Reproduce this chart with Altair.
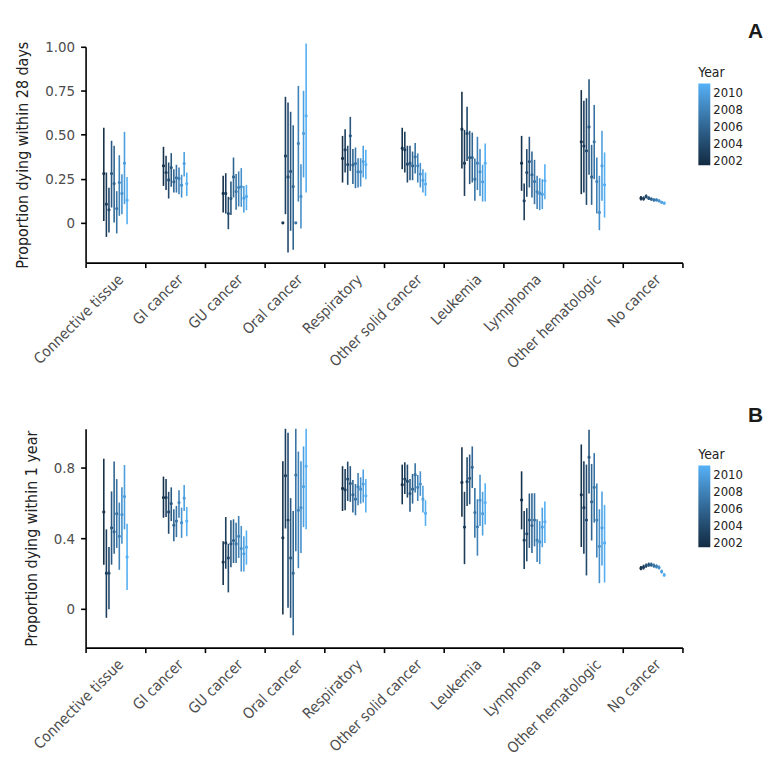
import altair as alt
import pandas as pd

categories = ["Connective tissue", "GI cancer", "GU cancer", "Oral cancer", "Respiratory",
              "Other solid cancer", "Leukemia", "Lymphoma", "Other hematologic", "No cancer"]
years = [2002, 2003, 2004, 2005, 2006, 2007, 2008, 2009, 2010, 2011]

# ---- Panel A: proportion dying within 28 days ----
est28 = {
    "Connective tissue": [0.28, 0.106, 0.074, 0.28, 0.223, 0.081, 0.229, 0.167, 0.339, 0.129],
    "GI cancer": [0.324, 0.286, 0.244, 0.314, 0.233, 0.256, 0.252, 0.214, 0.337, 0.223],
    "GU cancer": [0.167, 0.167, 0.053, 0.138, 0.261, 0.178, 0.201, 0.205, 0.14, 0.15],
    "Oral cancer": [0.0, 0.38, 0.261, 0.292, 0.206, 0.0, 0.451, 0.15, 0.508, 0.608],
    "Respiratory": [0.366, 0.415, 0.331, 0.494, 0.329, 0.337, 0.29, 0.29, 0.348, 0.331],
    "Other solid cancer": [0.424, 0.415, 0.333, 0.339, 0.324, 0.375, 0.324, 0.277, 0.242, 0.22],
    "Leukemia": [0.532, 0.339, 0.508, 0.371, 0.371, 0.248, 0.339, 0.29, 0.233, 0.339],
    "Lymphoma": [0.339, 0.125, 0.286, 0.348, 0.273, 0.235, 0.176, 0.167, 0.163, 0.239],
    "Other hematologic": [0.46, 0.436, 0.409, 0.545, 0.261, 0.46, 0.235, 0.059, 0.324, 0.216],
    "No cancer": [0.14, 0.138, 0.15, 0.14, 0.135, 0.13, 0.13, 0.125, 0.117, 0.112],
}
lo28 = {
    "Connective tissue": [0.011, -0.08, -0.055, 0.087, 0.002, -0.06, 0.04, 0.049, 0.106, -0.008],
    "GI cancer": [0.21, 0.186, 0.138, 0.205, 0.172, 0.172, 0.163, 0.144, 0.263, 0.153],
    "GU cancer": [0.059, 0.053, -0.036, 0.045, 0.144, 0.074, 0.093, 0.091, 0.059, 0.072],
    "Oral cancer": [0.0, 0.049, -0.169, -0.045, -0.153, 0.0, 0.121, -0.032, 0.258, 0.172],
    "Respiratory": [0.229, 0.286, 0.216, 0.295, 0.22, 0.197, 0.201, 0.206, 0.258, 0.248],
    "Other solid cancer": [0.305, 0.286, 0.229, 0.242, 0.242, 0.28, 0.229, 0.201, 0.172, 0.153],
    "Leukemia": [0.309, 0.153, 0.352, 0.22, 0.229, 0.125, 0.186, 0.153, 0.121, 0.121],
    "Lymphoma": [0.182, 0.015, 0.148, 0.201, 0.144, 0.106, 0.078, 0.072, 0.078, 0.134],
    "Other hematologic": [0.163, 0.172, 0.102, 0.273, 0.102, 0.248, 0.053, -0.042, 0.125, 0.03],
    "No cancer": [0.127, 0.126, 0.139, 0.13, 0.126, 0.121, 0.122, 0.117, 0.109, 0.104],
}
hi28 = {
    "Connective tissue": [0.54, 0.286, 0.20, 0.466, 0.438, 0.18, 0.384, 0.276, 0.517, 0.261],
    "GI cancer": [0.432, 0.381, 0.343, 0.396, 0.305, 0.33, 0.314, 0.273, 0.403, 0.286],
    "GU cancer": [0.267, 0.282, 0.148, 0.235, 0.371, 0.277, 0.292, 0.311, 0.21, 0.216],
    "Oral cancer": [0.0, 0.716, 0.684, 0.631, 0.555, 0.0, 0.778, 0.333, 0.75, 1.019],
    "Respiratory": [0.494, 0.532, 0.438, 0.602, 0.419, 0.428, 0.367, 0.367, 0.438, 0.415],
    "Other solid cancer": [0.54, 0.517, 0.438, 0.438, 0.405, 0.453, 0.394, 0.341, 0.305, 0.286],
    "Leukemia": [0.744, 0.528, 0.659, 0.523, 0.513, 0.366, 0.489, 0.419, 0.33, 0.451],
    "Lymphoma": [0.494, 0.223, 0.419, 0.489, 0.405, 0.358, 0.267, 0.254, 0.248, 0.333],
    "Other hematologic": [0.754, 0.693, 0.708, 0.816, 0.443, 0.67, 0.371, 0.267, 0.523, 0.4],
    "No cancer": [0.153, 0.150, 0.161, 0.150, 0.144, 0.139, 0.138, 0.133, 0.125, 0.12],
}

# ---- Panel B: proportion dying within 1 year ----
est1y = {
    "Connective tissue": [0.549, 0.202, 0.202, 0.459, 0.436, 0.539, 0.411, 0.534, 0.636, 0.293],
    "GI cancer": [0.63, 0.63, 0.549, 0.596, 0.474, 0.497, 0.602, 0.488, 0.627, 0.497],
    "GU cancer": [0.265, 0.373, 0.288, 0.368, 0.387, 0.368, 0.411, 0.341, 0.312, 0.349],
    "Oral cancer": [0.402, 0.754, 0.503, 0.288, 0.202, 0.758, 0.558, 0.573, 0.693, 0.808],
    "Respiratory": [0.682, 0.674, 0.735, 0.71, 0.646, 0.621, 0.691, 0.678, 0.707, 0.64],
    "Other solid cancer": [0.703, 0.735, 0.722, 0.653, 0.678, 0.76, 0.688, 0.707, 0.621, 0.541],
    "Leukemia": [0.716, 0.463, 0.72, 0.739, 0.802, 0.545, 0.465, 0.615, 0.539, 0.602],
    "Lymphoma": [0.617, 0.389, 0.425, 0.503, 0.472, 0.503, 0.389, 0.379, 0.463, 0.493],
    "Other hematologic": [0.646, 0.573, 0.503, 0.859, 0.606, 0.688, 0.503, 0.354, 0.459, 0.373],
    "No cancer": [0.23, 0.236, 0.244, 0.25, 0.25, 0.244, 0.24, 0.234, 0.211, 0.192],
}
lo1y = {
    "Connective tissue": [0.25, -0.051, -0.002, 0.25, 0.312, 0.345, 0.221, 0.368, 0.45, 0.107],
    "GI cancer": [0.516, 0.52, 0.425, 0.497, 0.383, 0.406, 0.516, 0.402, 0.554, 0.411],
    "GU cancer": [0.135, 0.227, 0.093, 0.236, 0.259, 0.259, 0.288, 0.211, 0.211, 0.25],
    "Oral cancer": [-0.032, 0.455, 0.006, -0.051, -0.15, 0.326, 0.23, 0.316, 0.463, 0.45],
    "Respiratory": [0.554, 0.558, 0.611, 0.606, 0.545, 0.53, 0.587, 0.596, 0.602, 0.545],
    "Other solid cancer": [0.592, 0.65, 0.63, 0.55, 0.596, 0.659, 0.611, 0.64, 0.545, 0.469],
    "Leukemia": [0.522, 0.253, 0.583, 0.592, 0.684, 0.402, 0.301, 0.469, 0.415, 0.478],
    "Lymphoma": [0.45, 0.225, 0.269, 0.345, 0.316, 0.354, 0.265, 0.253, 0.349, 0.373],
    "Other hematologic": [0.35, 0.312, 0.189, 0.653, 0.387, 0.488, 0.291, 0.145, 0.246, 0.149],
    "No cancer": [0.218, 0.222, 0.232, 0.238, 0.238, 0.232, 0.228, 0.222, 0.2, 0.182],
}
hi1y = {
    "Connective tissue": [0.85, 0.45, 0.35, 0.665, 0.834, 0.735, 0.602, 0.688, 0.815, 0.482],
    "GI cancer": [0.749, 0.735, 0.663, 0.688, 0.564, 0.583, 0.672, 0.573, 0.701, 0.577],
    "GU cancer": [0.383, 0.52, 0.368, 0.501, 0.507, 0.488, 0.526, 0.469, 0.411, 0.444],
    "Oral cancer": [0.836, 1.02, 0.998, 0.627, 0.554, 1.02, 0.891, 0.836, 0.92, 1.02],
    "Respiratory": [0.808, 0.792, 0.834, 0.808, 0.73, 0.707, 0.77, 0.745, 0.789, 0.735],
    "Other solid cancer": [0.817, 0.83, 0.817, 0.735, 0.764, 0.825, 0.758, 0.779, 0.697, 0.615],
    "Leukemia": [0.916, 0.663, 0.859, 0.874, 0.92, 0.684, 0.621, 0.76, 0.663, 0.712],
    "Lymphoma": [0.779, 0.554, 0.57, 0.653, 0.655, 0.655, 0.507, 0.497, 0.573, 0.608],
    "Other hematologic": [0.931, 0.836, 0.817, 1.015, 0.821, 0.882, 0.71, 0.564, 0.665, 0.589],
    "No cancer": [0.243, 0.25, 0.256, 0.262, 0.262, 0.256, 0.252, 0.246, 0.222, 0.202],
}

legend_years = [2002, 2004, 2006, 2008, 2010]
colorbar_limits = [2001.55, 2011.15]
ticks28 = [0, 0.25, 0.5, 0.75, 1.0]
ticks1y = [0, 0.4, 0.8]

FONT = "Liberation Sans Narrow, DejaVu Sans Condensed, Roboto, sans-serif"


def build(est, lo, hi):
    rows = []
    for c in categories:
        for i, y in enumerate(years):
            rows.append({"category": c, "year": y, "est": est[c][i], "lo": lo[c][i], "hi": hi[c][i]})
    return pd.DataFrame(rows)


def panel(df, letter, ytitle, domain, height, ticks, label_expr, title_dy):
    base = alt.Chart(df).encode(
        x=alt.X("category:N", sort=categories,
                scale=alt.Scale(paddingInner=0, paddingOuter=0),
                axis=alt.Axis(title=None, labelAngle=-45, labelAlign="right",
                              labelBaseline="top", tickBand="extent", labelPadding=4)),
        xOffset=alt.XOffset("year:O", scale=alt.Scale(type="point", range=[17, 43])),
        color=alt.Color("year:Q",
                        scale=alt.Scale(domain=colorbar_limits, range=["#132B43", "#56B1F7"],
                                        interpolate="lab"),
                        legend=alt.Legend(type="gradient", title="Year", orient="none",
                                          legendX=616, legendY=19, direction="vertical",
                                          values=legend_years, format="d", labelOverlap=False,
                                          gradientLength=82, gradientThickness=12,
                                          titleFontWeight="normal", titleFontSize=14,
                                          titleFont=FONT, titleColor="#222222",
                                          labelFont=FONT, labelFontSize=13, labelColor="#222222",
                                          labelOffset=3, titlePadding=4,
                                          gradientStrokeWidth=0)),
    )
    yscale = alt.Scale(domain=domain, nice=False, zero=False)
    bars = base.mark_rule(strokeWidth=1.6).encode(
        y=alt.Y("lo:Q", scale=yscale,
                axis=alt.Axis(title=ytitle, values=ticks, labelExpr=label_expr,
                              labelPadding=6, titlePadding=14)),
        y2="hi:Q",
    )
    pts = base.mark_point(filled=False, shape="circle", size=2, strokeWidth=1.8,
                          opacity=1).encode(y=alt.Y("est:Q", scale=yscale))
    return alt.layer(bars, pts).properties(
        width=600, height=height,
        title=alt.TitleParams(letter, anchor="end", frame="bounds", fontSize=21,
                              fontWeight="bold", font="Liberation Sans, Arial, sans-serif",
                              color="#1a1a1a", offset=2, dx=20, dy=title_dy),
    )


dfA = build(est28, lo28, hi28)
dfB = build(est1y, lo1y, hi1y)

chartA = panel(dfA, "A", "Proportion dying within 28 days", [-0.226, 1.0], 217, ticks28,
               "datum.value == 0 ? '0' : format(datum.value, '.2f')", 4)
chartB = panel(dfB, "B", "Proportion dying within 1 year", [-0.22, 1.02], 220, ticks1y,
               "datum.value == 0 ? '0' : format(datum.value, '.1f')", 0)

chart = alt.vconcat(chartA, chartB, spacing=34).resolve_scale(
    color="independent", y="independent"
).resolve_legend(color="independent").configure_view(stroke=None).configure_axis(
    grid=False, domainColor="#000000", domainWidth=1.6, tickColor="#000000", tickWidth=1.6,
    tickSize=5, labelColor="#4D4D4D", labelFont=FONT, labelFontSize=15,
    titleFont=FONT, titleFontSize=16, titleFontWeight="normal", titleColor="#222222",
).properties(padding={"left": 6, "top": 11, "right": 5, "bottom": 5})

chart.save("out.html", embed_options={"renderer": "svg", "actions": False})
